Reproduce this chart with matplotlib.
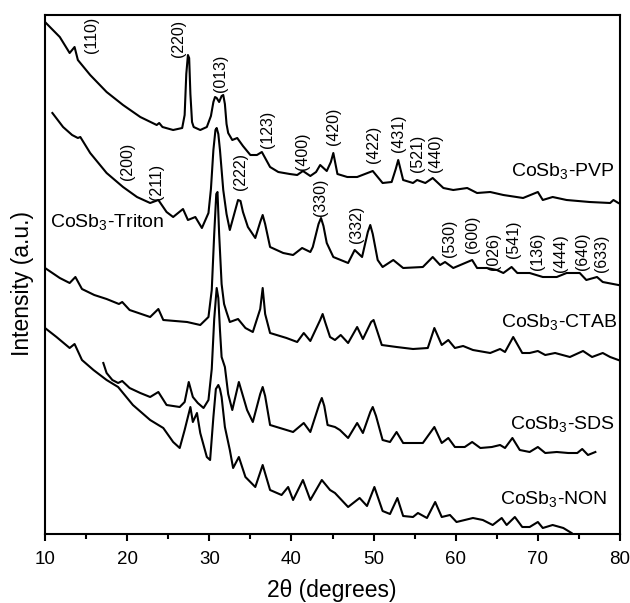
import matplotlib
matplotlib.use('Agg')
import matplotlib.pyplot as plt
from matplotlib.ticker import MultipleLocator

plt.rcParams['font.family'] = ['Liberation Sans', 'DejaVu Sans']
plt.rcParams['mathtext.fontset'] = 'custom'
plt.rcParams['mathtext.rm'] = 'Liberation Sans'

# XRD patterns (2theta in degrees, intensity in a.u.)
pvp_x = [10.0, 11.8, 13.0, 13.6, 14.0, 15.5, 17.5, 19.5, 21.6, 23.6, 23.9, 24.3, 25.6, 26.7, 27.0,
         27.2, 27.4, 27.55, 27.7, 27.9, 28.1, 28.9, 29.7, 30.2, 30.5, 30.7, 30.9, 31.2, 31.5, 31.7,
         31.9, 32.1, 32.3, 32.8, 33.4, 34.1, 35.0, 35.8, 36.4, 37.4, 38.4, 39.8, 40.7, 41.4, 42.3,
         43.0, 43.5, 44.3, 44.8, 45.1, 45.6, 46.8, 48.0, 49.9, 51.1, 52.2, 52.7, 53.0, 53.6, 54.8,
         55.3, 56.3, 57.2, 58.5, 59.7, 61.4, 62.6, 64.2, 65.8, 68.2, 70.0, 70.6, 71.8, 73.5, 76.3,
         78.8, 79.2, 79.8]
pvp_y = [512, 497, 481, 487, 474, 459, 442, 429, 417, 409, 411, 407, 404, 406, 419,
         460, 479, 476, 440, 412, 407, 404, 407, 418, 432, 437, 436, 432, 438, 439,
         430, 410, 401, 394, 396, 388, 379, 379, 382, 367, 362, 360, 359, 363, 358,
         362, 369, 363, 372, 381, 360, 357, 357, 363, 351, 352, 365, 374, 354, 351,
         354, 351, 356, 346, 344, 346, 341, 342, 339, 336, 342, 334, 337, 334, 332,
         331, 334, 331]

triton_x = [10.9, 12.2, 13.3, 14.0, 14.3, 15.5, 17.5, 19.5, 21.2, 22.8, 23.8, 24.8, 25.6, 26.8, 27.4,
            28.3, 29.1, 29.9, 30.2, 30.5, 30.75, 30.9, 31.1, 31.3, 31.7, 32.1, 32.5, 33.0, 33.5, 33.8,
            34.1, 34.7, 35.6, 36.2, 36.5, 36.8, 37.4, 39.0, 40.2, 41.3, 42.3, 42.6, 43.3, 43.6, 43.9,
            44.3, 45.1, 46.9, 47.7, 48.6, 49.3, 49.6, 49.9, 50.5, 51.1, 52.4, 53.6, 56.0, 57.2, 58.1,
            58.7, 59.7, 62.0, 62.6, 63.8, 65.0, 65.8, 66.8, 67.5, 69.0, 70.6, 72.3, 73.5, 75.1, 75.9,
            77.2, 77.9, 79.8]
triton_y = [421, 407, 399, 396, 397, 381, 361, 347, 337, 331, 334, 322, 317, 325, 314,
            317, 306, 321, 345, 384, 404, 406, 400, 384, 344, 320, 304, 319, 334, 333,
            322, 307, 296, 312, 319, 310, 287, 281, 279, 286, 282, 287, 310, 316, 308,
            291, 277, 271, 284, 277, 302, 309, 300, 274, 267, 274, 266, 267, 277, 269,
            272, 266, 274, 266, 266, 264, 261, 267, 261, 261, 257, 257, 261, 261, 254,
            257, 252, 249]

ctab_x = [10.0, 11.8, 13.0, 13.7, 14.5, 16.0, 17.5, 19.0, 19.4, 20.3, 22.8, 23.8, 24.4, 27.3, 28.9,
          29.9, 30.3, 30.6, 30.85, 31.0, 31.2, 31.5, 31.8, 32.1, 32.5, 33.5, 34.4, 35.3, 36.2, 36.5,
          36.8, 37.4, 39.4, 40.7, 41.5, 42.3, 43.5, 43.8, 44.1, 44.7, 45.3, 46.0, 46.9, 48.0, 48.7,
          49.7, 50.0, 51.0, 52.8, 54.8, 56.6, 57.4, 58.3, 59.1, 59.9, 60.9, 62.1, 64.2, 65.4, 66.0,
          67.0, 68.1, 69.0, 70.0, 70.9, 72.1, 73.9, 75.5, 76.6, 77.9, 78.8, 79.8]
ctab_y = [266, 256, 251, 257, 245, 239, 235, 230, 232, 224, 217, 225, 214, 212, 209,
          217, 244, 300, 340, 342, 300, 250, 230, 222, 212, 215, 206, 202, 225, 246,
          220, 201, 196, 192, 201, 193, 214, 220, 212, 197, 194, 199, 191, 207, 195,
          212, 214, 189, 187, 185, 186, 206, 189, 194, 186, 188, 184, 181, 185, 182,
          197, 181, 181, 183, 179, 181, 177, 183, 177, 181, 177, 174]

sds_x = [17.1, 17.5, 18.2, 18.9, 19.4, 20.3, 21.6, 22.8, 23.8, 24.8, 26.4, 27.0, 27.5, 28.0, 28.6,
         29.3, 29.9, 30.3, 30.6, 30.9, 31.1, 31.3, 31.5, 31.9, 32.3, 32.8, 33.6, 34.6, 35.3, 36.2,
         36.5, 36.8, 37.4, 39.4, 40.2, 41.5, 42.3, 43.4, 43.7, 44.0, 44.4, 45.3, 45.9, 46.9, 48.0,
         48.7, 49.6, 49.9, 50.3, 51.1, 52.0, 52.8, 53.6, 56.0, 57.4, 58.3, 59.1, 59.9, 61.1, 62.0,
         63.0, 64.4, 65.4, 66.0, 66.9, 67.8, 69.0, 70.0, 70.9, 72.3, 73.7, 74.8, 75.4, 76.1, 77.0]
sds_y = [171, 161, 154, 151, 153, 146, 141, 137, 142, 129, 127, 132, 152, 137, 131,
         126, 134, 165, 215, 246, 236, 204, 177, 167, 140, 124, 152, 124, 112, 140,
         147, 138, 109, 104, 102, 111, 102, 130, 136, 128, 109, 107, 104, 96, 111,
         101, 122, 127, 118, 94, 92, 102, 91, 91, 107, 91, 96, 87, 87, 92,
         86, 87, 89, 86, 96, 84, 82, 87, 81, 82, 81, 81, 85, 79, 82]

non_x = [10.0, 11.4, 13.0, 13.6, 14.5, 15.9, 17.5, 18.9, 20.7, 22.8, 24.4, 25.6, 26.4, 27.0, 27.7,
         28.0, 28.5, 28.9, 29.7, 30.1, 30.5, 30.8, 31.1, 31.3, 31.5, 31.9, 32.5, 32.9, 33.6, 34.4,
         35.6, 36.5, 37.4, 38.8, 39.6, 40.2, 41.4, 42.3, 43.7, 44.7, 45.3, 46.1, 46.9, 48.3, 49.2,
         50.1, 51.1, 52.0, 52.9, 53.6, 54.8, 55.4, 56.5, 57.5, 58.3, 59.3, 60.1, 62.1, 63.3, 64.5,
         65.6, 66.2, 67.2, 68.1, 69.0, 70.0, 70.6, 71.8, 73.1, 74.1]
non_y = [206, 197, 186, 190, 174, 164, 154, 147, 129, 114, 106, 92, 86, 104, 127,
         112, 121, 101, 77, 74, 117, 145, 149, 145, 137, 107, 84, 66, 77, 57,
         47, 69, 44, 39, 47, 34, 54, 34, 54, 44, 41, 34, 27, 36, 28,
         47, 23, 20, 36, 18, 17, 21, 16, 32, 17, 19, 12, 16, 14, 9,
         16, 9, 17, 7, 7, 12, 6, 9, 6, 1]

# sample names: (x, y, text, alignment)
sample_labels = [
    (79.4, 357, r'CoSb$_\mathregular{3}$-PVP', 'right'),
    (10.6, 306, r'CoSb$_\mathregular{3}$-Triton', 'left'),
    (79.7, 206, r'CoSb$_\mathregular{3}$-CTAB', 'right'),
    (79.4, 104, r'CoSb$_\mathregular{3}$-SDS', 'right'),
    (78.5, 29, r'CoSb$_\mathregular{3}$-NON', 'right'),
]

# Miller indices: label, 2theta, bottom of text
hkl_labels = ['(110)', '(220)', '(013)', '(123)', '(400)', '(420)', '(422)', '(431)', '(521)', '(440)',
              '(200)', '(211)', '(222)', '(330)', '(332)', '(530)', '(600)', '(026)', '(541)', '(136)',
              '(444)', '(640)', '(633)']
hkl_x = [15.7, 26.3, 31.4, 37.1, 41.4, 45.1, 50.0, 53.0, 55.4, 57.5,
         20.1, 23.6, 33.8, 43.5, 47.9, 59.3, 62.0, 64.6, 67.0, 69.9,
         72.7, 75.4, 77.8]
hkl_y = [481, 477, 442, 386, 364, 389, 371, 382, 362, 362,
         354, 334, 344, 318, 291, 277, 281, 264, 276, 264,
         262, 264, 262]

fig = plt.figure(figsize=(6.3, 6.03), dpi=100)
ax = fig.add_axes([45 / 630, 1 - 534 / 603, 575 / 630, 519 / 603])

for xs, ys in [(pvp_x, pvp_y), (triton_x, triton_y), (ctab_x, ctab_y), (sds_x, sds_y), (non_x, non_y)]:
    ax.plot(xs, ys, color='black', linewidth=1.5)

for x, y, txt, ha in sample_labels:
    ax.text(x, y, txt, fontsize=14, ha=ha, va='baseline')

for txt, x, y in zip(hkl_labels, hkl_x, hkl_y):
    ax.text(x, y, txt, fontsize=11.5, rotation=90, ha='center', va='bottom')

ax.set_xlim(10, 80)
ax.set_ylim(0, 519)
ax.xaxis.set_major_locator(MultipleLocator(10))
ax.xaxis.set_minor_locator(MultipleLocator(5))
ax.tick_params(axis='x', which='major', direction='out', length=5, width=1.5, labelsize=13.5, pad=7)
ax.tick_params(axis='x', which='minor', direction='out', length=3.5, width=1.5)
ax.set_yticks([])
for sp in ax.spines.values():
    sp.set_linewidth(1.5)

fig.text(332 / 630, 1 - 590 / 603, '2\u03b8 (degrees)', fontsize=16.5, ha='center', va='center')
fig.text(23 / 630, 1 - 283 / 603, 'Intensity (a.u.)', fontsize=16.5, rotation=90, ha='center', va='center')

fig.savefig('out.png', dpi=100)
